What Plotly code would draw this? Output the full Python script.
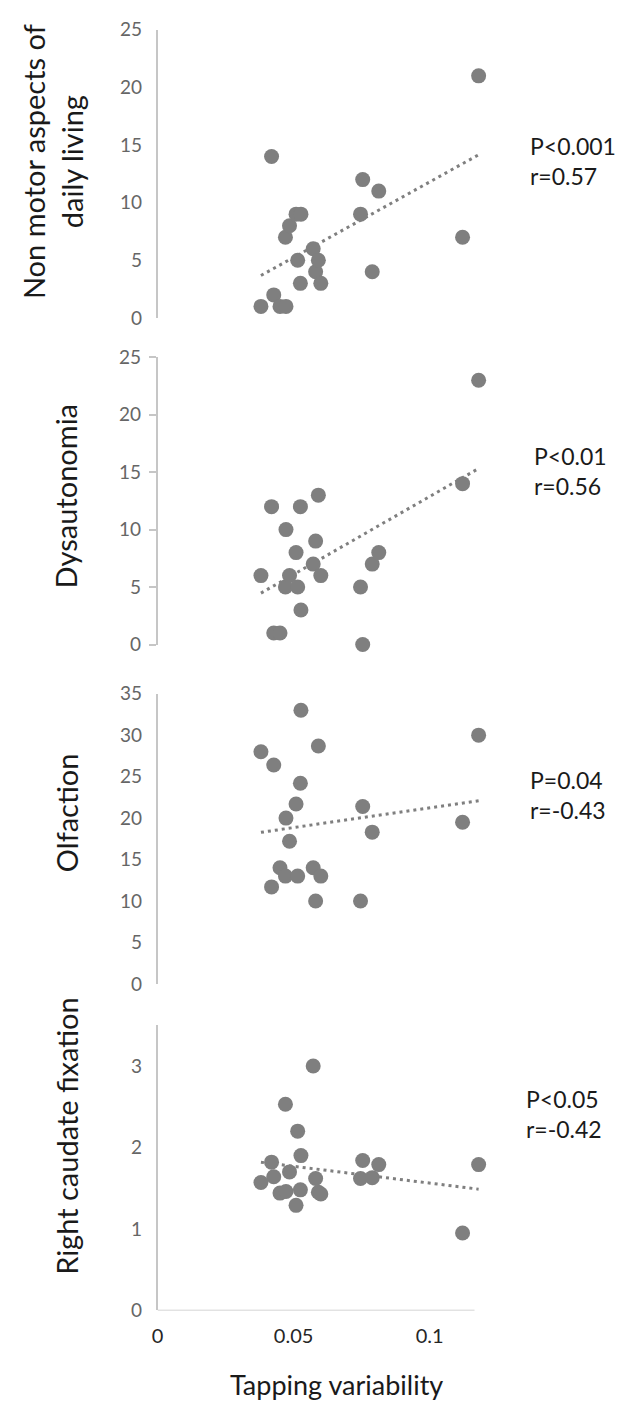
import numpy as np
import plotly.graph_objects as go

# ---------------- data ----------------
tapping = [0.0380, 0.0419, 0.0427, 0.0450, 0.0470, 0.0472, 0.0485, 0.0509, 0.0515, 0.0525,
           0.0527, 0.0572, 0.0581, 0.0591, 0.0600, 0.0746, 0.0754, 0.0789, 0.0813, 0.1121, 0.1180]
non_motor = [1, 14, 2, 1, 7, 1, 8, 9, 5, 3, 9, 6, 4, 5, 3, 9, 12, 4, 11, 7, 21]
dysautonomia = [6, 12, 1, 1, 5, 10, 6, 8, 5, 12, 3, 7, 9, 13, 6, 5, 0, 7, 8, 14, 23]
olfaction = [28, 11.7, 26.4, 14, 13, 20, 17.2, 21.7, 13, 24.2, 33, 14, 10, 28.7, 13, 10,
             21.4, 18.3, None, 19.5, 30]
caudate = [1.57, 1.82, 1.64, 1.44, 2.53, 1.46, 1.70, 1.29, 2.20, 1.48, 1.90, 3.00, 1.62,
           1.45, 1.43, 1.62, 1.84, 1.63, 1.79, 0.95, 1.79]

panel_titles = ["Non motor aspects of<br>daily living", "Dysautonomia", "Olfaction",
                "Right caudate fixation"]
stat_texts = ["P<0.001<br>r=0.57", "P<0.01<br>r=0.56", "P=0.04<br>r=-0.43", "P<0.05<br>r=-0.42"]
y_ranges = [[0, 25], [0, 25], [0, 35], [0, 3.5]]
y_tickvals = [[0, 5, 10, 15, 20, 25], [0, 5, 10, 15, 20, 25],
              [0, 5, 10, 15, 20, 25, 30, 35], [0, 1, 2, 3]]
x_tickvals = [0, 0.05, 0.1]
x_ticktext = ["0", "0.05", "0.1"]
x_axis_max = 0.1165
x_title = "Tapping variability"

series = [non_motor, dysautonomia, olfaction, caudate]

# ---------------- layout geometry (pixels) ----------------
W, H = 633, 1411
PX_L = 153
PX_PER_UNIT = 2747.0
X_VIEW_MAX = 0.1205                     # room so the right-most markers are not clipped
PX_R = PX_L + X_VIEW_MAX * PX_PER_UNIT
panels_px = [(18, 311), (351, 643), (693, 988), (1030, 1320)]  # top, bottom
title_pos = [(47, 152), (61, 492), (61, 814), (61, 1142)]
stat_pos = [(527, 151), (531, 467), (527, 796), (523, 1120)]

FONT = "Lato, 'Open Sans', sans-serif"
AXIS_COLOR = "#c6c6c6"
MARKER_COLOR = "#7f7f7f"

fig = go.Figure()
layout = dict(
    width=W, height=H, margin=dict(l=0, r=0, t=0, b=0),
    paper_bgcolor="white", plot_bgcolor="white", showlegend=False,
    font=dict(family=FONT),
)

def py(p):
    return 1 - p / H

annotations = []
shapes = []
for i, ys in enumerate(series):
    n = "" if i == 0 else str(i + 1)
    xa, ya = "x" + n, "y" + n
    top, bot = panels_px[i]
    last = i == 3
    layout["xaxis" + n] = dict(
        domain=[PX_L / W, PX_R / W], range=[0, X_VIEW_MAX], anchor=ya,
        showgrid=False, zeroline=False, showline=False,
        showticklabels=last, tickvals=x_tickvals, ticktext=x_ticktext, ticks="",
        tickfont=dict(size=20, color="#262626", family=FONT), ticklabelstandoff=12,
    )
    layout["yaxis" + n] = dict(
        domain=[py(bot), py(top)], range=y_ranges[i], anchor=xa,
        showgrid=False, zeroline=False, showline=True, linecolor=AXIS_COLOR, linewidth=1.5,
        tickvals=y_tickvals[i], ticks="outside" if i == 1 else "",
        ticklen=7, tickcolor=AXIS_COLOR, tickwidth=1.5,
        tickfont=dict(size=19, color="#666666", family=FONT),
        ticklabelstandoff=10 if i != 1 else 4,
    )
    if last:
        shapes.append(dict(type="line", xref=xa, yref=ya, x0=0, x1=x_axis_max, y0=0, y1=0,
                           line=dict(color=AXIS_COLOR, width=1.5), layer="below"))
    xs = np.array(tapping, dtype=float)
    yv = np.array([np.nan if v is None else v for v in ys], dtype=float)
    ok = ~np.isnan(yv)
    slope, icpt = np.polyfit(xs[ok], yv[ok], 1)
    xl = np.array([xs[ok].min(), xs[ok].max()])
    fig.add_trace(go.Scatter(
        x=xl, y=slope * xl + icpt, mode="lines", xaxis=xa, yaxis=ya,
        line=dict(color="#7f7f7f", width=3, dash="3px,4px"), hoverinfo="skip",
    ))
    fig.add_trace(go.Scatter(
        x=tapping, y=ys, mode="markers", xaxis=xa, yaxis=ya, cliponaxis=False,
        marker=dict(size=15, color=MARKER_COLOR, line=dict(width=0)),
    ))
    tx, ty = title_pos[i]
    annotations.append(dict(
        text=panel_titles[i], x=tx / W, y=py(ty), xref="paper", yref="paper",
        xanchor="center", yanchor="middle", textangle=-90, showarrow=False,
        font=dict(size=29, color="#1a1a1a", family=FONT),
    ))
    sx, sy = stat_pos[i]
    annotations.append(dict(
        text=stat_texts[i], x=sx / W, y=py(sy), xref="paper", yref="paper",
        xanchor="left", yanchor="middle", align="left", showarrow=False,
        font=dict(size=23, color="#1a1a1a", family=FONT),
    ))

annotations.append(dict(
    text=x_title, x=334 / W, y=py(1395), xref="paper", yref="paper",
    xanchor="center", yanchor="middle", showarrow=False,
    font=dict(size=27, color="#1a1a1a", family=FONT),
))
layout["annotations"] = annotations
layout["shapes"] = shapes
fig.update_layout(**layout)

fig.write_html("out.html", config={"displayModeBar": False},
               post_script="document.body.style.margin='0';document.body.style.overflow='hidden';")
